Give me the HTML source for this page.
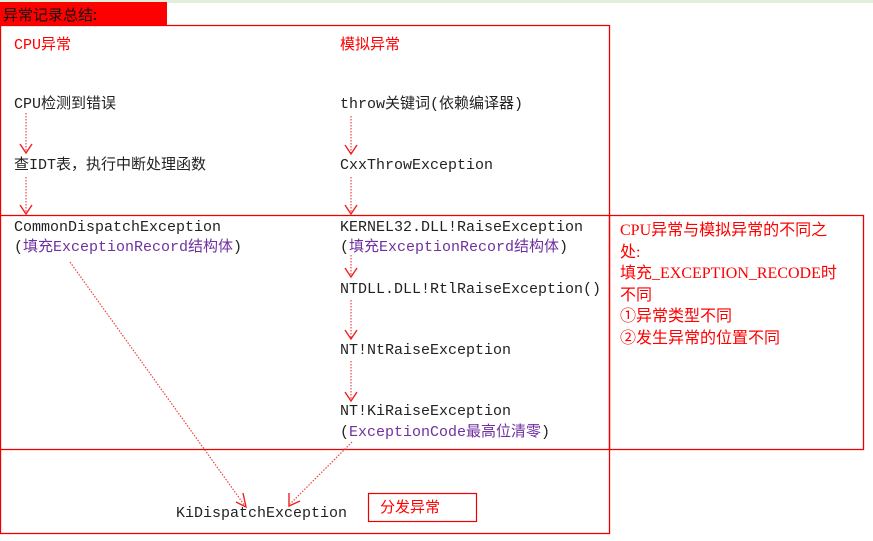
<!DOCTYPE html>
<html><head><meta charset="utf-8"><style>
body{margin:0;width:873px;height:541px;background:#fff;position:relative;overflow:hidden;font-family:"Liberation Mono","Noto Sans CJK SC",monospace;font-size:15px;color:#222}
.t{position:absolute;white-space:nowrap;line-height:18px}
.r{color:#f00}.p{color:#7030a0}
.n{position:absolute;font-family:"Liberation Serif","Noto Sans CJK SC",serif;color:#f00;font-size:16px;line-height:21.5px;left:620px;top:220px;white-space:nowrap}
</style></head><body>
<div style="position:absolute;left:0;top:0;width:873px;height:3px;background:#e2efda"></div>
<div style="position:absolute;left:0;top:2px;width:167px;height:24px;background:#f00"></div>
<div class="t" style="left:3px;top:6px;font-family:'Noto Sans CJK SC',sans-serif;font-size:15px;color:#111">异常记录总结:</div>
<svg width="873" height="541" style="position:absolute;left:0;top:0">
<g fill="none" stroke="#e00" stroke-width="1.3">
<path d="M0.5 25.5H609.5V533.5H0.5Z"/>
<path d="M0 215.5H863.5V449.5H0"/>
<path d="M609.5 215V449"/>
</g>
<g stroke="#e44" stroke-width="1.2" stroke-dasharray="1.5 1.5" fill="none">
<path d="M26 113V152M26 177V213M351 116V153M351 177V213M351 255V276M351 300V338M351 361V400M70 262L245 506M352 442L290 504"/>
</g>
<g stroke="#e22" stroke-width="1.4" fill="none">
<path d="M20 144L26 153L32 144M20 205L26 214L32 205M345 145L351 154L357 145M345 205L351 214L357 205M345 268L351 277L357 268M345 330L351 339L357 330M345 392L351 401L357 392"/>
<path d="M243 493L246 507L236 502M289 493L289 506L300 501"/>
</g>
<rect x="368.5" y="493.5" width="108" height="28" fill="none" stroke="#e00" stroke-width="1.2"/>
</svg>
<div class="t r" style="left:14px;top:37px">CPU异常</div>
<div class="t r" style="left:340px;top:37px">模拟异常</div>
<div class="t" style="left:14px;top:96px">CPU检测到错误</div>
<div class="t" style="left:340px;top:96px">throw关键词(依赖编译器)</div>
<div class="t" style="left:14px;top:157px">查IDT表，执行中断处理函数</div>
<div class="t" style="left:340px;top:157px">CxxThrowException</div>
<div class="t" style="left:14px;top:219px">CommonDispatchException</div>
<div class="t" style="left:14px;top:239px">(<span class="p">填充ExceptionRecord结构体</span>)</div>
<div class="t" style="left:340px;top:219px">KERNEL32.DLL!RaiseException</div>
<div class="t" style="left:340px;top:239px">(<span class="p">填充ExceptionRecord结构体</span>)</div>
<div class="t" style="left:340px;top:281px">NTDLL.DLL!RtlRaiseException()</div>
<div class="t" style="left:340px;top:342px">NT!NtRaiseException</div>
<div class="t" style="left:340px;top:403px">NT!KiRaiseException</div>
<div class="t" style="left:340px;top:424px">(<span class="p">ExceptionCode最高位清零</span>)</div>
<div class="t" style="left:176px;top:505px">KiDispatchException</div>
<div class="t r" style="left:380px;top:498px;font-family:'Noto Sans CJK SC',sans-serif">分发异常</div>
<div class="n">CPU异常与模拟异常的不同之<br>处:<br>填充_EXCEPTION_RECODE时<br>不同<br>①异常类型不同<br>②发生异常的位置不同</div>
</body></html>
